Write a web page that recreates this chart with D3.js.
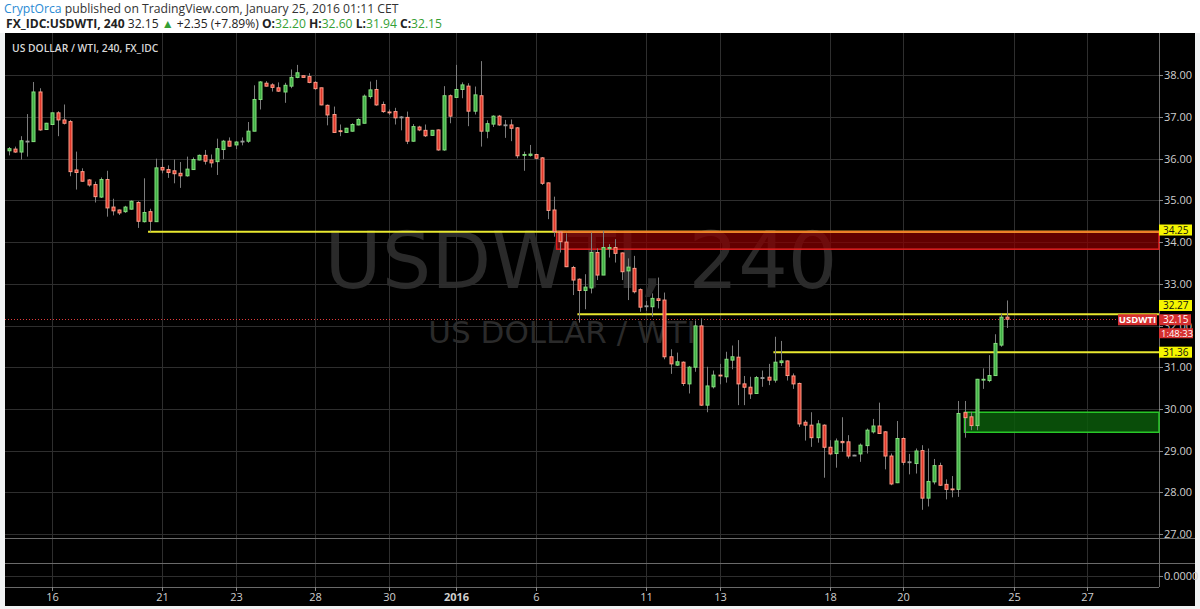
<!DOCTYPE html>
<html><head><meta charset="utf-8">
<script src="https://cdn.jsdelivr.net/npm/d3@7"></script>
<style>body{margin:0;background:#fff;}svg{display:block;}</style>
</head><body><svg id="c" width="1200" height="609"></svg>
<script>
// ---- DATA (4h candles, USDWTI) ----
const opens = [36.19,36.23,36.16,36.42,36.41,37.60,36.70,36.82,37.10,36.93,36.89,35.73,35.69,35.49,35.38,35.08,35.50,34.84,34.77,34.73,34.79,34.95,34.49,34.73,34.49,35.79,35.74,35.71,35.65,35.59,35.74,35.97,36.08,35.97,35.93,36.22,36.42,36.33,36.42,36.42,36.66,37.42,37.81,37.77,37.70,37.60,37.74,37.95,37.99,37.97,37.83,37.70,37.28,37.06,36.67,36.63,36.66,36.81,36.85,37.49,37.66,37.30,37.12,37.13,37.00,36.99,36.42,36.76,36.68,36.56,36.69,36.21,37.51,37.47,37.66,37.74,37.14,37.51,36.66,36.83,37.02,36.81,36.81,36.74,36.09,36.08,36.10,36.02,35.42,34.77,34.24,34.00,33.39,33.11,32.84,32.90,33.75,33.21,33.84,33.87,33.74,33.31,33.37,32.86,32.47,32.45,32.64,32.61,31.25,31.05,31.12,30.60,31.00,31.99,30.09,30.53,30.81,30.77,31.17,31.24,30.60,30.52,30.37,30.75,30.76,30.69,31.11,31.15,30.79,30.61,29.68,29.61,29.31,29.61,29.08,28.93,29.22,29.21,28.89,28.92,29.12,29.45,29.59,29.45,28.87,28.23,29.29,28.73,28.69,29.00,27.86,28.25,28.64,28.19,28.08,28.07,29.91,29.81,29.60,30.70,30.68,30.80,31.53,32.20];
const highs = [36.28,36.29,36.54,37.07,37.84,37.69,36.86,37.10,37.14,37.30,36.93,36.17,35.77,35.51,35.45,35.55,35.71,35.04,34.78,34.87,35.00,34.98,35.53,34.80,36.00,36.00,35.84,35.98,35.92,36.05,36.03,36.10,36.21,36.10,36.48,36.45,36.51,36.42,36.51,36.88,37.76,37.86,37.86,37.81,37.83,37.82,38.14,38.25,38.00,38.05,37.86,37.70,37.30,37.25,36.82,36.74,36.85,36.97,37.54,37.85,37.89,37.37,37.18,37.22,37.02,37.13,36.83,36.79,36.82,36.69,36.70,37.74,37.54,38.25,37.83,37.81,37.73,38.34,36.92,37.04,37.05,36.93,36.94,36.76,36.17,36.33,36.12,36.04,35.43,35.09,34.25,34.21,33.43,33.13,33.23,34.23,33.85,34.27,33.95,34.07,33.75,33.61,33.67,32.89,32.59,32.77,33.15,32.79,31.43,31.35,31.14,31.03,32.12,32.17,31.01,30.92,31.08,31.37,31.52,31.65,30.79,30.77,30.79,30.92,31.08,31.73,31.63,31.16,30.85,30.63,29.73,29.92,29.73,29.63,29.25,29.29,29.80,29.37,28.90,29.17,29.53,29.76,30.15,29.47,28.93,29.71,29.32,28.92,29.05,29.13,29.05,28.80,28.71,28.31,28.39,30.19,30.19,29.93,30.72,30.97,31.29,31.79,32.29,32.60];
const lows = [36.08,36.14,35.98,36.05,36.41,36.67,36.69,36.82,36.54,36.82,35.58,35.26,35.45,35.33,34.95,35.06,34.61,34.64,34.65,34.70,34.78,34.34,34.47,34.25,34.49,35.65,35.54,35.41,35.30,35.57,35.73,35.96,35.86,35.79,35.61,35.99,36.29,36.23,36.32,36.38,36.66,37.18,37.73,37.61,37.60,37.34,37.69,37.93,37.94,37.81,37.65,37.28,36.80,36.63,36.54,36.62,36.65,36.80,36.85,37.44,37.27,37.10,37.05,36.82,36.68,36.35,36.41,36.66,36.52,36.55,36.19,36.19,36.85,37.47,37.45,36.78,37.06,36.29,36.49,36.76,36.79,36.50,36.42,36.01,35.71,36.05,35.98,35.37,34.55,34.13,33.75,33.40,32.73,32.07,32.39,32.77,33.09,33.21,33.63,33.51,33.09,32.61,32.77,32.33,32.35,32.21,32.41,31.19,30.84,31.03,30.55,30.37,30.89,30.07,29.92,30.49,30.59,30.63,30.95,30.09,30.09,30.24,30.36,30.53,30.57,30.63,31.03,30.68,30.48,29.57,29.24,29.09,29.19,28.35,28.89,28.59,28.97,28.81,28.88,28.73,28.93,29.41,29.40,28.55,28.17,28.22,28.65,28.43,28.45,27.58,27.66,28.19,28.15,27.83,27.88,27.89,29.31,29.49,29.49,30.48,30.64,30.80,31.49,31.94];
const closes = [36.24,36.16,36.43,36.42,37.60,36.69,36.85,37.10,36.93,36.85,35.69,35.67,35.46,35.37,35.09,35.50,34.82,34.75,34.70,34.84,34.98,34.50,34.71,34.50,35.78,35.73,35.67,35.64,35.59,35.75,35.98,36.08,35.94,35.90,36.24,36.42,36.30,36.40,36.42,36.66,37.42,37.84,37.74,37.71,37.62,37.76,37.95,38.06,37.95,37.83,37.68,37.29,37.05,36.63,36.65,36.73,36.82,36.94,37.50,37.65,37.29,37.13,37.10,36.98,37.00,36.42,36.77,36.69,36.55,36.68,36.21,37.51,37.02,37.66,37.77,37.14,37.53,36.66,36.84,37.02,36.81,36.81,36.73,36.07,36.10,36.11,36.01,35.41,34.76,34.25,34.01,33.41,33.09,32.84,32.92,33.75,33.21,33.87,33.87,33.73,33.29,33.40,32.81,32.44,32.47,32.65,32.60,31.25,31.08,31.13,30.61,31.00,31.99,30.09,30.55,30.81,30.79,31.19,31.25,30.60,30.52,30.36,30.75,30.75,30.69,31.12,31.15,30.80,30.60,29.64,29.61,29.31,29.64,29.08,28.92,29.23,29.19,28.87,28.89,29.13,29.49,29.59,29.41,28.87,28.20,29.29,28.72,28.73,28.99,27.86,28.26,28.64,28.17,28.07,28.07,29.89,29.79,29.60,30.71,30.71,30.80,31.57,32.20,32.15];

const dayLabels = ["16","21","23","28","30","2016","6","11","13","18","20","25","27"];
const dayIndex  = [7,25,37,50,62,73,86,104,116,134,146,164,176];
const priceTicks = [27,28,29,30,31,32,33,34,35,36,37,38];

const levelPrices = [34.25, 32.27, 31.36];
const levelStart  = [22.7, 92.8, 124.8];
const levelLabelPrice = [34.29, 32.48, 31.36];

const redZone   = {start: 89.4, top: 34.25, bottom: 33.83};
const greenZone = {start: 156.0, top: 29.92, bottom: 29.44};
const lastPrice = 32.15;

// ---- LAYOUT ----
const svg = d3.select("#c");
const L = 5, R = 1159, TOP = 33, MAIN_B = 538, P2_B = 563, P3_B = 587, BOT = 606, RIGHT = 1195;
const x = d3.scaleLinear().domain([-0.65, 187.75]).range([L, R]);
const y = d3.scaleLinear().domain([27, 38]).range([534, 75.3]);
const FONT = "'Open Sans', 'Liberation Sans', Arial, sans-serif";

svg.append("rect").attr("width",1200).attr("height",609).attr("fill","#f0f2f3");
svg.append("rect").attr("width",1200).attr("height",TOP).attr("fill","#ffffff");
svg.append("rect").attr("x",L).attr("y",TOP).attr("width",RIGHT-L).attr("height",BOT-TOP).attr("fill","#000");

// header
const h1 = svg.append("text").attr("x",4).attr("y",13).attr("font-family",FONT).attr("font-size",12.2).attr("fill","#333");
h1.append("tspan").attr("fill","#2a8ad4").text("CryptOrca");
h1.append("tspan").text(" published on TradingView.com, January 25, 2016 01:11 CET");
const h2 = svg.append("text").attr("x",6).attr("y",28).attr("font-family",FONT).attr("font-size",12.1).attr("fill","#222");
const G = "#35a035";
h2.append("tspan").attr("font-weight","bold").text("FX_IDC:USDWTI, 240");
h2.append("tspan").text(" 32.15 ");
h2.append("tspan").attr("fill",G).text("▲");
h2.append("tspan").text(" +2.35 (+7.89%) ");
[["O:","32.20"],["H:","32.60"],["L:","31.94"],["C:","32.15"]].forEach(([k,v],i)=>{
  h2.append("tspan").attr("font-weight","bold").text((i?" ":"")+k);
  h2.append("tspan").attr("fill",G).text(v);
});

// watermark
svg.append("text").attr("x",581).attr("y",288).attr("text-anchor","middle")
  .attr("font-family","'DejaVu Sans', sans-serif").attr("font-size",78)
  .attr("fill","#2a2a2a").text("USDWTI, 240");
svg.append("text").attr("x",562).attr("y",343).attr("text-anchor","middle")
  .attr("font-family","'DejaVu Sans', sans-serif").attr("font-size",31)
  .attr("fill","#2a2a2a").text("US DOLLAR / WTI");

// grid
const grid = svg.append("g");
grid.selectAll("line.h").data(priceTicks).join("line")
  .attr("x1",L).attr("x2",R).attr("y1",d=>Math.round(y(d))+0.5).attr("y2",d=>Math.round(y(d))+0.5)
  .attr("stroke","#2e2e2e");
grid.selectAll("line.v").data(dayIndex).join("line")
  .attr("x1",d=>Math.round(x(d))+0.5).attr("x2",d=>Math.round(x(d))+0.5).attr("y1",TOP).attr("y2",P3_B)
  .attr("stroke","#2e2e2e");
grid.append("line").attr("x1",L).attr("x2",R).attr("y1",576.5).attr("y2",576.5).attr("stroke","#2e2e2e");

// pane separators
[MAIN_B, P2_B].forEach(v=>svg.append("line").attr("x1",L).attr("x2",RIGHT).attr("y1",v+0.5).attr("y2",v+0.5).attr("stroke","#6a6a6a"));
svg.append("line").attr("x1",L).attr("x2",R).attr("y1",P3_B+0.5).attr("y2",P3_B+0.5).attr("stroke","#6a6a6a");
svg.append("line").attr("x1",R+0.5).attr("x2",R+0.5).attr("y1",TOP).attr("y2",P3_B).attr("stroke","#6a6a6a");

// pane title
svg.append("text").attr("x",12).attr("y",52).attr("font-family",FONT).attr("font-size",10.3)
  .attr("font-weight",600).attr("fill","#d8d8d8").text("US DOLLAR / WTI, 240, FX_IDC");

// zones
svg.append("rect").attr("x",x(redZone.start)).attr("y",y(redZone.top))
  .attr("width",R-x(redZone.start)).attr("height",y(redZone.bottom)-y(redZone.top))
  .attr("fill","#8b0000").attr("fill-opacity",0.7).attr("stroke","#e02020").attr("stroke-width",1.5);
svg.append("rect").attr("x",x(greenZone.start)).attr("y",y(greenZone.top))
  .attr("width",R-x(greenZone.start)).attr("height",y(greenZone.bottom)-y(greenZone.top))
  .attr("fill","#0b5a0b").attr("fill-opacity",0.85).attr("stroke","#28c828").attr("stroke-width",1.5);

// yellow levels
levelPrices.forEach((p,i)=>{
  svg.append("line").attr("x1",x(levelStart[i])).attr("x2",R).attr("y1",y(p)).attr("y2",y(p))
    .attr("stroke","#e8e830").attr("stroke-width",2);
});
svg.append("line").attr("x1",x(redZone.start)).attr("x2",R).attr("y1",y(redZone.top)).attr("y2",y(redZone.top))
  .attr("stroke","#f07a28").attr("stroke-width",2);

// last price dotted line
svg.append("line").attr("x1",L).attr("x2",1118).attr("y1",Math.round(y(lastPrice))+0.5).attr("y2",Math.round(y(lastPrice))+0.5)
  .attr("stroke","#e03a3a").attr("stroke-dasharray","1,2");

// candles
const idx = d3.range(closes.length);
const cg = svg.append("g");
cg.selectAll("line.w").data(idx).join("line")
  .attr("x1",i=>Math.round(x(i))+0.5).attr("x2",i=>Math.round(x(i))+0.5)
  .attr("y1",i=>y(highs[i])).attr("y2",i=>y(lows[i]))
  .attr("stroke","#7c7c7c");
cg.selectAll("rect").data(idx).join("rect")
  .attr("x",i=>Math.round(x(i))-1)
  .attr("width",3)
  .attr("y",i=>y(Math.max(opens[i],closes[i])))
  .attr("height",i=>Math.max(0.8, Math.abs(y(opens[i])-y(closes[i]))))
  .attr("fill",i=>closes[i]>opens[i]?"#3fae45":(closes[i]<opens[i]?"#e0382a":"#9a9a9a"))
  .attr("stroke",i=>closes[i]>opens[i]?"#86e07f":(closes[i]<opens[i]?"#ff9c88":"#9a9a9a"))
  .attr("stroke-width",1);

// price axis labels
const ax = svg.append("g").attr("font-family",FONT).attr("font-size",11);
priceTicks.forEach(p=>{
  ax.append("line").attr("x1",R).attr("x2",R+4).attr("y1",Math.round(y(p))+0.5).attr("y2",Math.round(y(p))+0.5).attr("stroke","#888");
  ax.append("text").attr("x",R+5).attr("y",y(p)+4).attr("fill","#cfcfcf").text(p.toFixed(2));
});
ax.append("line").attr("x1",R).attr("x2",R+4).attr("y1",576.5).attr("y2",576.5).attr("stroke","#888");
ax.append("text").attr("x",R+5).attr("y",580).attr("fill","#cfcfcf").text("0.0000");

// level boxes
levelLabelPrice.forEach((p,i)=>{
  const yy = y(p);
  ax.append("rect").attr("x",R).attr("y",yy-5.5).attr("width",33).attr("height",11).attr("fill","#f5f500");
  ax.append("text").attr("x",R+4).attr("y",yy+3.6).attr("fill","#111").attr("font-size",10).text(levelPrices[i].toFixed(2));
});
// last price boxes
const ly = y(lastPrice);
ax.append("rect").attr("x",1118).attr("y",ly-5).attr("width",39).attr("height",11).attr("fill","#d63030");
ax.append("text").attr("x",1137.5).attr("y",ly+3.6).attr("text-anchor","middle").attr("fill","#fff").attr("font-weight","bold").attr("font-size",9.5).text("USDWTI");
ax.append("rect").attr("x",R).attr("y",ly-5).attr("width",32).attr("height",11).attr("fill","#d63030");
ax.append("text").attr("x",R+4).attr("y",ly+3.6).attr("fill","#fff").attr("font-size",10).text("32.15");
ax.append("rect").attr("x",R).attr("y",ly+9).attr("width",34).attr("height",10).attr("fill","#d63030");
ax.append("text").attr("x",R+2).attr("y",ly+17.3).attr("fill","#fff").attr("font-size",9.5).text("1:48:33");

// time axis
const tx = svg.append("g").attr("font-family",FONT).attr("font-size",11);
dayIndex.forEach((d,i)=>{
  const xx = Math.round(x(d))+0.5;
  tx.append("line").attr("x1",xx).attr("x2",xx).attr("y1",P3_B).attr("y2",P3_B+4).attr("stroke","#888");
  tx.append("text").attr("x",xx).attr("y",601).attr("text-anchor","middle")
    .attr("font-weight",dayLabels[i]==="2016"?"bold":"normal").attr("fill","#cfcfcf").text(dayLabels[i]);
});
</script></body></html>
